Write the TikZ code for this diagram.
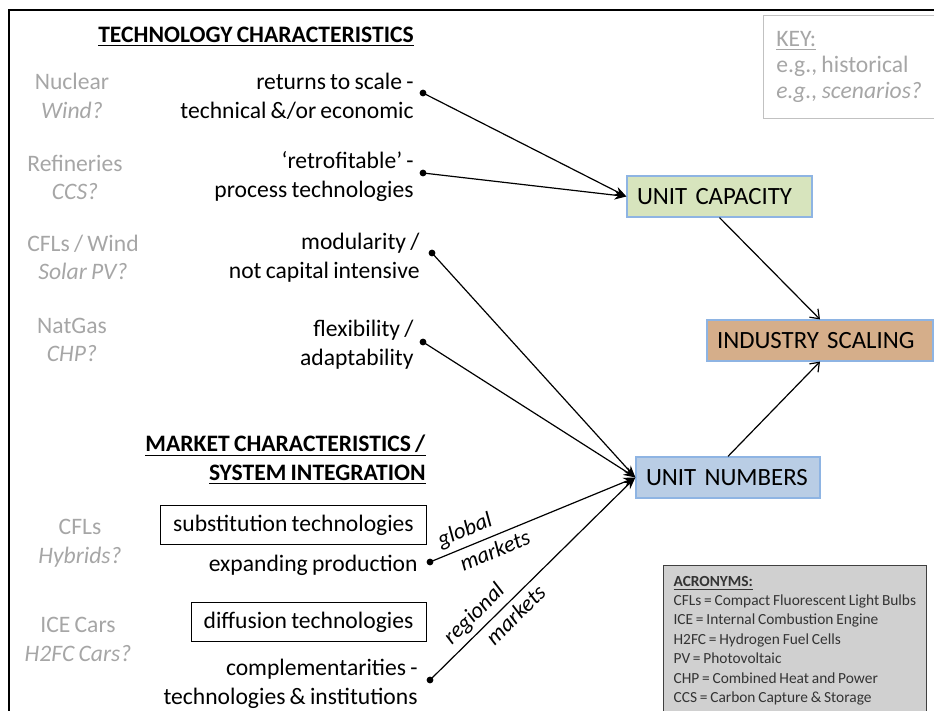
\documentclass[tikz,border=0pt]{standalone}
\usepackage{fontspec}
\setmainfont{Carlito}[WordSpace=0.8]
\usetikzlibrary{arrows.meta}
\usepackage{xcolor}
\definecolor{grisejemplo}{HTML}{A6A6A6}
\definecolor{bordeazul}{HTML}{8EB4E3}
\definecolor{verdecap}{HTML}{D7E4BD}
\definecolor{marronind}{HTML}{D5AE8A}
\definecolor{azulnum}{HTML}{B9CDE5}
\definecolor{grisacr}{HTML}{D0D0D0}

\begin{document}
\begin{tikzpicture}[x=0.5pt,y=-0.5pt,
    texto/.style={align=right,inner sep=0pt,font=\fontsize{11.8}{14.3}\selectfont},
    ejemplo/.style={align=center,inner sep=0pt,text=grisejemplo,font=\fontsize{11.8}{14.3}\selectfont},
    punto/.style={circle,fill=black,inner sep=0pt,minimum size=3.4pt},
    etapa/.style={draw=bordeazul,line width=0.6pt,minimum height=20.5pt,inner xsep=5pt,inner ysep=0pt,align=left,font=\fontsize{12.4}{14.3}\selectfont},
    caja/.style={draw=black,line width=0.5pt,minimum height=19.5pt,inner sep=0pt,font=\fontsize{11.8}{14.3}\selectfont},
    flecha/.style={line width=0.6pt,-{Stealth[length=6pt,width=4.5pt]}},
    flechab/.style={line width=0.6pt,-{Straight Barb[length=4pt,width=6pt]}},
    etiq/.style={sloped,inner sep=2.5pt,font=\fontsize{11.3}{13}\selectfont\itshape}]
\useasboundingbox (0,0) rectangle (934,711);
\draw[line width=1pt] (9,711) -- (9,10) -- (934,10); % marco

% titulos
\node[texto] (tectit) at (256,37) {\underline{\textbf{TECHNOLOGY CHARACTERISTICS}}};
\node[texto,anchor=east] (mertit) at (426,460) {\underline{\textbf{MARKET CHARACTERISTICS /}}\\\underline{\textbf{SYSTEM INTEGRATION}}};

% ejemplos en gris
\node[ejemplo] (ej1) at (72,96) {Nuclear\\\textit{Wind?}};
\node[ejemplo] (ej2) at (75,177.5) {Refineries\\\textit{CCS?}};
\node[ejemplo] (ej3) at (83,257.5) {CFLs / Wind\\\textit{Solar PV?}};
\node[ejemplo] (ej4) at (72,340) {NatGas\\\textit{CHP?}};
\node[ejemplo] (ej5) at (80,543) {CFLs\\\textit{Hybrids?}};
\node[ejemplo] (ej6) at (78,639.5) {ICE Cars\\\textit{H2FC Cars?}};

% caracteristicas
\node[texto,anchor=east] (car1) at (414,96.5) {returns to scale -\\technical \&/or economic};
\node[texto,anchor=east] (car2) at (414,176.5) {‘retrofitable’ -\\process technologies};
\node[texto,anchor=east] (car3) at (420,257.5) {modularity /\\not capital intensive};
\node[texto,anchor=east] (car4) at (414,344.5) {flexibility /\\adaptability};
\node[caja,minimum width=133pt] (sust) at (293.5,525.5) {substitution technologies};
\node[texto,anchor=east] (car5) at (418,565) {expanding production};
\node[caja,minimum width=117.5pt] (difu) at (308.5,622.5) {diffusion technologies};
\node[texto,anchor=east] (car6) at (418,684) {complementarities -\\technologies \& institutions};

% puntos
\node[punto] (d1) at (423,93) {};
\node[punto] (d2) at (423,173) {};
\node[punto] (d3) at (432,253) {};
\node[punto] (d4) at (423,342) {};
\node[punto] (d5) at (430,562) {};
\node[punto] (d6) at (430,680) {};

% etapas
\node[etapa,fill=verdecap,text width=82.5pt] (ucap) at (719.5,196.5) {UNIT CAPACITY};
\node[etapa,fill=marronind,text width=103pt] (iscal) at (820,340.5) {INDUSTRY SCALING};
\node[etapa,fill=azulnum,text width=82pt] (unum) at (728,477.5) {UNIT NUMBERS};

% leyendas
\node[draw=grisejemplo!70,line width=0.6pt,anchor=north west,align=left,inner xsep=5pt,inner ysep=8pt,minimum width=85.5pt,text=grisejemplo,font=\fontsize{11.8}{13}\selectfont] (clave) at (763,15) {\underline{KEY:}\\e.g., historical\\\textit{e.g., scenarios?}};
\node[draw=black!75,fill=grisacr,line width=0.6pt,anchor=north west,align=left,inner xsep=5pt,inner ysep=4pt,minimum height=75pt,text=black!80,font=\fontsize{7.7}{9.7}\selectfont] (acr) at (663,565) {\underline{\textbf{ACRONYMS:}}\\CFLs = Compact Fluorescent Light Bulbs\\ICE = Internal Combustion Engine\\H2FC = Hydrogen Fuel Cells\\PV = Photovoltaic\\CHP = Combined Heat and Power\\CCS = Carbon Capture \& Storage};

% flechas
\draw[flecha] (d1.center) -- (ucap.west);
\draw[flecha] (d2.center) -- (ucap.west);
\draw[flecha] (d3.center) -- (unum.west);
\draw[flecha] (d4.center) -- (unum.west);
\draw[flecha] (d5.center) -- (unum.west) node[etiq,above,pos=0.2] {global} node[etiq,below,pos=0.29] {markets};
\draw[flecha] (d6.center) -- (unum.west) node[etiq,above,pos=0.27] {regional} node[etiq,below,pos=0.37] {markets};
\draw[flechab] (ucap.south) -- (iscal.north);
\draw[flechab] (unum.north) -- (iscal.south);
\end{tikzpicture}
\end{document}
